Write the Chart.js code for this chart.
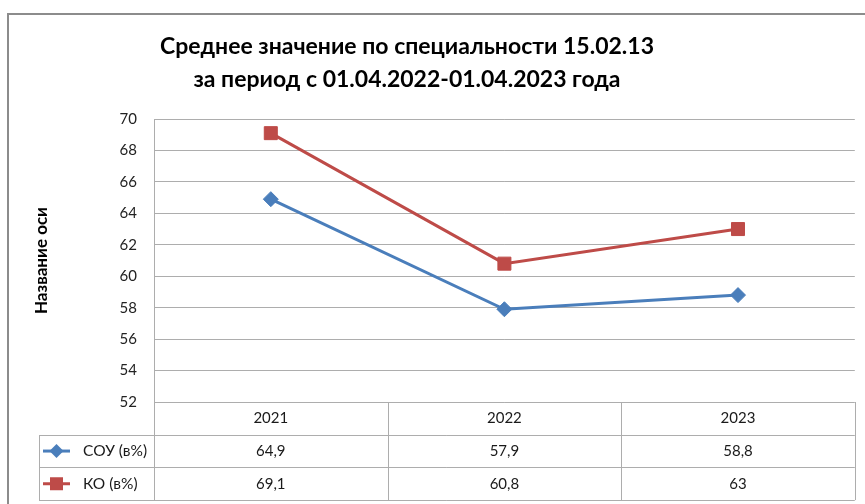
<!DOCTYPE html>
<html>
<head>
<meta charset="utf-8">
<script src="https://cdn.jsdelivr.net/npm/chart.js@4.4.1/dist/chart.umd.min.js"></script>
<style>
  body { margin: 0; background: #fff; }
  #wrap { position: relative; width: 865px; height: 504px; }
</style>
</head>
<body>
<div id="wrap"><canvas id="lineChart" width="865" height="504"></canvas></div>
<script>
const years = ['2021', '2022', '2023'];
const souValues = [64.9, 57.9, 58.8];
const koValues = [69.1, 60.8, 63];
const seriesNames = ['СОУ (в%)', 'КО (в%)'];
const titleLines = ['Среднее значение по специальности 15.02.13', 'за период с 01.04.2022-01.04.2023 года'];
const axisTitle = 'Название оси';
const yTicks = { min: 52, max: 70, step: 2 };

const fontFamily = 'Lato, "Open Sans", sans-serif';
const blue = '#4a7ebb';
const red = '#be4b48';
const gridColor = '#adadad';

// заголовок, рамка и таблица данных под графиком
const tablePlugin = {
    id: 'dataTable',
    afterDraw(chart) {
        const ctx = chart.ctx;
        const area = chart.chartArea;
        const x = chart.scales.x;
        const rowH = 32.7;
        const legendLeft = 39;
        const bottom = area.bottom + rowH * 3;
        const colW = (area.right - area.left) / years.length;

        ctx.save();
        // внешняя рамка
        ctx.strokeStyle = '#8c8c8c';
        ctx.lineWidth = 2;
        ctx.beginPath();
        ctx.moveTo(8, 504);
        ctx.lineTo(8, 14);
        ctx.lineTo(865, 14);
        ctx.stroke();

        // заголовок
        ctx.fillStyle = '#000';
        ctx.font = 'bold 23px ' + fontFamily;
        ctx.textAlign = 'center';
        ctx.textBaseline = 'middle';
        titleLines.forEach((line, i) => ctx.fillText(line, 407, 47 + i * 33));

        ctx.strokeStyle = gridColor;
        ctx.lineWidth = 1;
        ctx.beginPath();
        for (let i = 0; i <= years.length; i++) {
            const cx = Math.round(area.left + i * colW) + 0.5;
            ctx.moveTo(cx, area.bottom);
            ctx.lineTo(cx, bottom);
        }
        for (let r = 1; r <= 3; r++) {
            const cy = Math.round(area.bottom + r * rowH) + 0.5;
            ctx.moveTo(legendLeft, cy);
            ctx.lineTo(area.right, cy);
        }
        ctx.moveTo(legendLeft + 0.5, Math.round(area.bottom + rowH) + 0.5);
        ctx.lineTo(legendLeft + 0.5, Math.round(bottom) + 0.5);
        ctx.stroke();

        ctx.fillStyle = '#1a1a1a';
        ctx.font = '15px ' + fontFamily;
        years.forEach((y, i) => {
            ctx.fillText(y, x.getPixelForValue(i), area.bottom + rowH / 2);
        });
        [souValues, koValues].forEach((vals, r) => {
            const cy = area.bottom + rowH * (r + 1.5);
            vals.forEach((v, i) => {
                ctx.fillText(String(v).replace('.', ','), x.getPixelForValue(i), cy);
            });
        });

        // легенда в таблице
        ctx.textAlign = 'left';
        ctx.font = '15.5px ' + fontFamily;
        chart.data.datasets.forEach((ds, r) => {
            const cy = area.bottom + rowH * (r + 1.5);
            ctx.strokeStyle = ds.borderColor;
            ctx.lineWidth = 3;
            ctx.beginPath();
            ctx.moveTo(43, cy);
            ctx.lineTo(70, cy);
            ctx.stroke();
            ctx.fillStyle = ds.borderColor;
            ctx.beginPath();
            if (ds.pointStyle === 'rect') {
                ctx.rect(50, cy - 6.5, 13, 13);
            } else {
                ctx.moveTo(56.5, cy - 7);
                ctx.lineTo(63.5, cy);
                ctx.lineTo(56.5, cy + 7);
                ctx.lineTo(49.5, cy);
                ctx.closePath();
            }
            ctx.fill();
            ctx.fillStyle = '#1a1a1a';
            ctx.fillText(seriesNames[r], 83, cy);
        });
        ctx.restore();
    }
};

new Chart(document.getElementById('lineChart'), {
    type: 'line',
    data: {
        labels: years,
        datasets: [
            {
                label: seriesNames[0],
                data: souValues,
                borderColor: blue,
                backgroundColor: blue,
                borderWidth: 3,
                pointStyle: 'rectRot',
                pointRadius: 7.5,
                pointBorderWidth: 1,
                tension: 0
            },
            {
                label: seriesNames[1],
                data: koValues,
                borderColor: red,
                backgroundColor: red,
                borderWidth: 3,
                pointStyle: 'rect',
                pointRadius: 9.2,
                pointBorderWidth: 1,
                tension: 0
            }
        ]
    },
    options: {
        responsive: false,
        animation: false,
        layout: { padding: { left: 0, right: 5, top: 119, bottom: 102 } },
        plugins: {
            legend: { display: false },
            tooltip: { enabled: false },
            title: { display: false }
        },
        scales: {
            x: {
                display: false,
                offset: true
            },
            y: {
                min: yTicks.min,
                max: yTicks.max,
                afterFit(scale) { scale.width = 154; },
                ticks: {
                    stepSize: yTicks.step,
                    padding: 17,
                    color: '#222',
                    font: { family: fontFamily, size: 15 }
                },
                grid: { color: gridColor, drawTicks: false },
                border: { color: gridColor },
                title: {
                    display: true,
                    text: axisTitle,
                    color: '#000',
                    font: { family: fontFamily, size: 17, weight: 'bold' },
                    padding: { top: 31, bottom: 0 }
                }
            }
        }
    },
    plugins: [tablePlugin]
});
</script>
</body>
</html>
